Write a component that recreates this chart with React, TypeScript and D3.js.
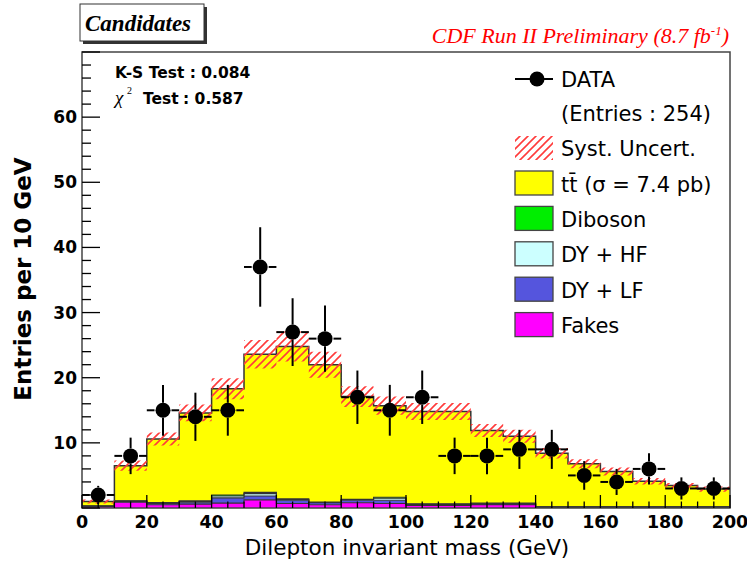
import React, { useEffect, useRef } from "react";
import * as d3 from "d3";

// bin edges (GeV)
const binEdges = [0, 10, 20, 30, 40, 50, 60, 70, 80, 90, 100, 110, 120, 130, 140, 150, 160, 170, 180, 190, 200];

// observed entries and their errors
const dataCounts = [2, 8, 15, 14, 15, 37, 27, 26, 17, 15, 17, 8, 8, 9, 9, 5, 4, 6, 3, 3];
const dataErrors = [1.4, 2.8, 3.9, 3.7, 3.9, 6.1, 5.2, 5.1, 4.1, 3.9, 4.1, 2.8, 2.8, 3.0, 3.0, 2.2, 2.0, 2.4, 1.7, 1.7];

// background / signal expectation, stacked bottom -> top
const fakes = [0.2, 0.9, 0.5, 0.6, 0.75, 1.25, 0.7, 0.5, 0.8, 0.7, 0.4, 0.4, 0.5, 0.5, 0.1, 0.1, 0.1, 0.1, 0.1, 0.1];
const dyLF = [0.1, 0.1, 0.2, 0.3, 0.8, 0.6, 0.5, 0.3, 0.4, 0.5, 0.1, 0.1, 0.1, 0.1, 0.05, 0.05, 0.05, 0.05, 0.05, 0.05];
const dyHF = [0.0, 0.05, 0.05, 0.1, 0.3, 0.35, 0.1, 0.05, 0.1, 0.3, 0.05, 0.05, 0.05, 0.05, 0.0, 0.0, 0.0, 0.0, 0.0, 0.0];
const diboson = [0.0, 0.05, 0.1, 0.1, 0.15, 0.2, 0.1, 0.05, 0.05, 0.15, 0.1, 0.1, 0.1, 0.1, 0.05, 0.05, 0.05, 0.05, 0.05, 0.05];
const ttbar = [0.7, 5.4, 9.75, 13.5, 16.3, 21.2, 23.4, 21.1, 15.75, 14.05, 14.15, 14.15, 11.15, 10.25, 8.2, 6.6, 5.4, 3.9, 3.25, 2.7];
const systUnc = [0.3, 0.8, 1.0, 1.3, 1.6, 2.2, 2.3, 2.0, 1.6, 1.4, 1.3, 1.3, 1.0, 1.0, 0.8, 0.7, 0.6, 0.5, 0.4, 0.4];

const xTicks = [0, 20, 40, 60, 80, 100, 120, 140, 160, 180, 200];
const yTicks = [10, 20, 30, 40, 50, 60];

const layerKeys = ["fakes", "dyLF", "dyHF", "diboson", "ttbar"];
const layerColors: Record<string, string> = {
  fakes: "#ff00ff",
  dyLF: "#5555dd",
  dyHF: "#ccffff",
  diboson: "#00ee00",
  ttbar: "#ffff00",
};

const legendItems = [
  { label: "t\u0074\u0304 (\u03c3 = 7.4 pb)", color: "#ffff00" },
  { label: "Diboson", color: "#00ee00" },
  { label: "DY + HF", color: "#ccffff" },
  { label: "DY + LF", color: "#5555dd" },
  { label: "Fakes", color: "#ff00ff" },
];

const SANS = "'DejaVu Sans', sans-serif";
const SERIF = "'Liberation Serif', 'Times New Roman', serif";

export default function App() {
  const ref = useRef<SVGSVGElement>(null);

  useEffect(() => {
    if (!ref.current) return;
    const svg = d3.select(ref.current);
    svg.selectAll("*").remove();

    const x = d3.scaleLinear().domain([0, 200]).range([82, 730]);
    const y = d3.scaleLinear().domain([0, 70]).range([508, 52]);

    // hatch pattern for syst. band
    const defs = svg.append("defs");
    defs.append("pattern")
      .attr("id", "hatch")
      .attr("patternUnits", "userSpaceOnUse")
      .attr("width", 8)
      .attr("height", 8)
      .append("path")
      .attr("d", "M-2,2 L2,-2 M0,8 L8,0 M6,10 L10,6")
      .attr("stroke", "#ff3b3b")
      .attr("stroke-width", 1.6);

    // title box
    svg.append("rect").attr("x", 83).attr("y", 7).attr("width", 124).attr("height", 37).attr("fill", "#333");
    svg.append("rect").attr("x", 80).attr("y", 4).attr("width", 124).attr("height", 37)
      .attr("fill", "#fff").attr("stroke", "#333").attr("stroke-width", 1);
    svg.append("text").attr("x", 85).attr("y", 31)
      .style("font-family", SERIF).style("font-weight", "bold").style("font-style", "italic")
      .style("font-size", "23px").text("Candidates");

    const cdf = svg.append("text").attr("x", 729).attr("y", 43).attr("text-anchor", "end")
      .style("font-family", SERIF).style("font-style", "italic").style("font-size", "22px")
      .attr("fill", "#ff0000");
    cdf.append("tspan").text("CDF Run II Preliminary (8.7 fb");
    cdf.append("tspan").attr("dy", -8).style("font-size", "13px").text("-1");
    cdf.append("tspan").attr("dy", 8).text(")");

    // stack
    const rows = binEdges.slice(0, -1).map((lo, i) => ({
      lo, fakes: fakes[i], dyLF: dyLF[i], dyHF: dyHF[i], diboson: diboson[i], ttbar: ttbar[i],
    }));
    const stacked = d3.stack<any>().keys(layerKeys)(rows);

    const area = d3.area<any>()
      .x((d: any) => x(d.x))
      .y0((d: any) => y(d.y0))
      .y1((d: any) => y(d.y1))
      .curve(d3.curveStepAfter);
    const line = d3.line<any>()
      .x((d: any) => x(d.x))
      .y((d: any) => y(d.y1))
      .curve(d3.curveStepAfter);

    const stepPts = (s: any) => {
      const pts = s.map((d: any, i: number) => ({ x: binEdges[i], y0: d[0], y1: d[1] }));
      const last = s[s.length - 1];
      pts.push({ x: binEdges[binEdges.length - 1], y0: last[0], y1: last[1] });
      return pts;
    };

    stacked.forEach((s: any) => {
      svg.append("path").attr("d", area(stepPts(s)) as string).attr("fill", layerColors[s.key]);
    });
    stacked.forEach((s: any) => {
      svg.append("path").attr("d", line(stepPts(s)) as string)
        .attr("fill", "none").attr("stroke", "#333")
        .attr("stroke-width", s.key === "ttbar" ? 1.5 : 1.1);
    });

    // syst band
    const top = stacked[stacked.length - 1];
    const band = top.map((d: any, i: number) => ({ x: binEdges[i], y0: d[1] - systUnc[i], y1: d[1] + systUnc[i] }));
    band.push({ x: 200, y0: band[band.length - 1].y0, y1: band[band.length - 1].y1 });
    svg.append("path").attr("d", area(band) as string).attr("fill", "url(#hatch)");

    // frame
    svg.append("rect").attr("x", 82).attr("y", 52).attr("width", 648).attr("height", 456)
      .attr("fill", "none").attr("stroke", "#444").attr("stroke-width", 1.5);

    // y ticks
    const yAx = svg.append("g");
    d3.range(0, 71, 2).forEach((v) => {
      const major = v % 10 === 0;
      yAx.append("line").attr("x1", 82).attr("x2", 82 + (major ? 18 : 9))
        .attr("y1", y(v)).attr("y2", y(v)).attr("stroke", "#000").attr("stroke-width", 1.3);
    });
    yTicks.forEach((v) => {
      yAx.append("text").attr("x", 77).attr("y", y(v) + 6).attr("text-anchor", "end")
        .style("font-family", SANS).style("font-weight", "bold").style("font-size", "17px").text(v);
    });

    // x ticks
    const xAx = svg.append("g");
    d3.range(0, 201, 5).forEach((v) => {
      const major = v % 20 === 0;
      xAx.append("line").attr("x1", x(v)).attr("x2", x(v))
        .attr("y1", 508).attr("y2", 508 - (major ? 13 : 6.5)).attr("stroke", "#000").attr("stroke-width", 1.3);
    });
    xTicks.forEach((v) => {
      xAx.append("text").attr("x", x(v)).attr("y", 528).attr("text-anchor", "middle")
        .style("font-family", SANS).style("font-weight", "bold").style("font-size", "17.5px").text(v);
    });

    // axis titles
    svg.append("text").attr("x", 407).attr("y", 555).attr("text-anchor", "middle")
      .style("font-family", SANS).style("font-size", "21.5px").text("Dilepton invariant mass (GeV)");
    svg.append("text").attr("transform", "translate(31,279) rotate(-90)").attr("text-anchor", "middle")
      .style("font-family", SANS).style("font-weight", "bold").style("font-size", "23px").text("Entries per 10 GeV");

    // data points
    const r = 7.5;
    const pts = svg.append("g");
    dataCounts.forEach((v, i) => {
      const cx = x((binEdges[i] + binEdges[i + 1]) / 2);
      const cy = y(v);
      const lo = y(v - dataErrors[i]);
      const hi = y(v + dataErrors[i]);
      const seg = (x1: number, y1: number, x2: number, y2: number) =>
        pts.append("line").attr("x1", x1).attr("y1", y1).attr("x2", x2).attr("y2", y2)
          .attr("stroke", "#000").attr("stroke-width", 2);
      if (hi < cy - r) seg(cx, hi, cx, cy - r);
      if (lo > cy + r) seg(cx, cy + r, cx, lo);
      seg(x(binEdges[i]), cy, cx - r - 1, cy);
      seg(cx + r + 1, cy, x(binEdges[i + 1]), cy);
      pts.append("circle").attr("cx", cx).attr("cy", cy).attr("r", r).attr("fill", "#000");
    });

    // test statistics
    const bold = (tx: number, ty: number, s: string) =>
      svg.append("text").attr("x", tx).attr("y", ty)
        .style("font-family", SANS).style("font-weight", "bold").style("font-size", "15.5px").text(s);
    bold(115, 78, "K-S Test : 0.084");
    svg.append("text").attr("x", 115).attr("y", 104)
      .style("font-family", SERIF).style("font-style", "italic").style("font-size", "19px").text("\u03c7");
    svg.append("text").attr("x", 127).attr("y", 94)
      .style("font-family", SERIF).style("font-size", "10px").text("2");
    bold(143, 104, "Test");
    bold(183, 104, ": 0.587");

    // legend
    const lg = svg.append("g").style("font-family", SANS).style("font-size", "21px");
    lg.append("line").attr("x1", 515).attr("x2", 553).attr("y1", 79).attr("y2", 79)
      .attr("stroke", "#000").attr("stroke-width", 2);
    lg.append("circle").attr("cx", 537).attr("cy", 79).attr("r", r).attr("fill", "#000");
    lg.append("text").attr("x", 561).attr("y", 87).text("DATA");
    lg.append("text").attr("x", 561).attr("y", 121).text("(Entries : 254)");
    lg.append("rect").attr("x", 515).attr("y", 136).attr("width", 38).attr("height", 24).attr("fill", "url(#hatch)");
    lg.append("text").attr("x", 561).attr("y", 156).text("Syst. Uncert.");
    legendItems.forEach((it, i) => {
      const base = 191.5 + i * 35.4;
      lg.append("rect").attr("x", 515).attr("y", base - 20.5).attr("width", 38).attr("height", 24)
        .attr("fill", it.color).attr("stroke", "#444").attr("stroke-width", 1.3);
      lg.append("text").attr("x", 561).attr("y", base).text(it.label);
    });
  }, []);

  return (
    <svg ref={ref} width={747} height={561}
      style={{ position: "absolute", left: 0, top: 0, background: "#fff" }} />
  );
}
